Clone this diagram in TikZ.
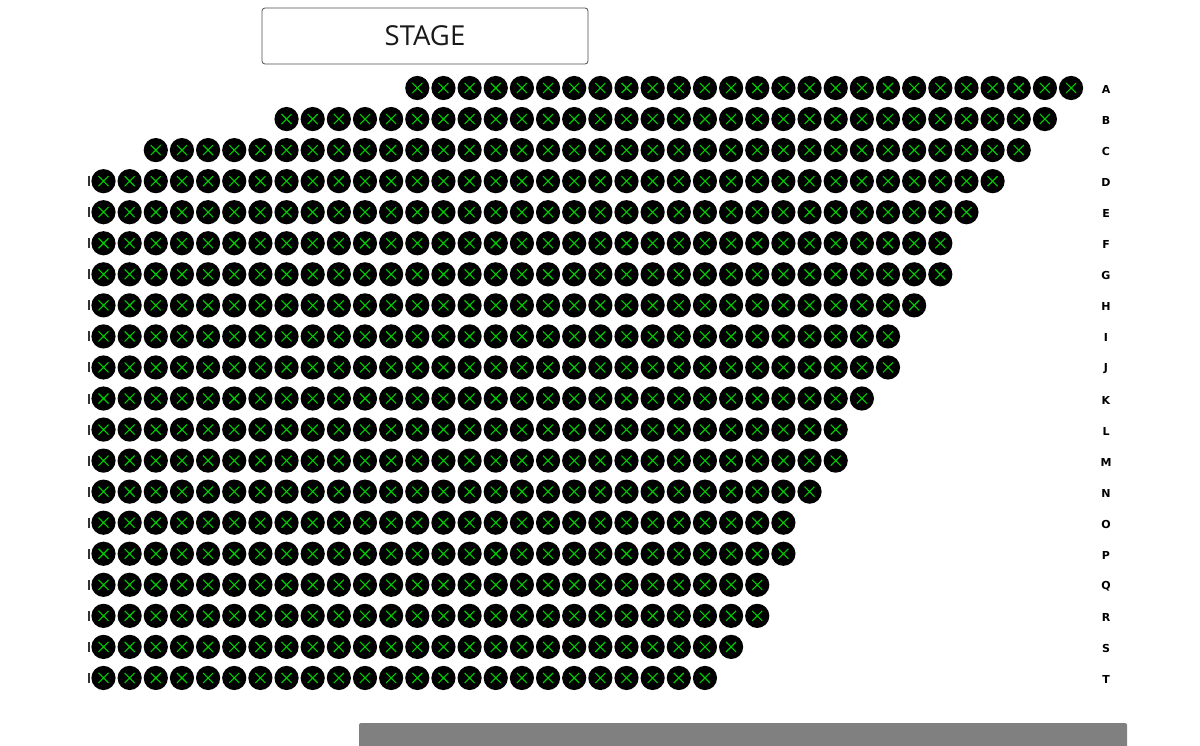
\documentclass[tikz,border=0pt]{standalone}
\usepackage{fontspec}
\setmainfont{Open Sans}
\newfontfamily\labfont{DejaVu Sans Bold}
\definecolor{xgreen}{RGB}{0,205,0}
\definecolor{bargray}{RGB}{128,128,128}
\begin{document}
\begin{tikzpicture}[x=1pt,y=-1pt,
  seat/.style={fill=black},
  xmark/.style={draw=xgreen, line width=1.1pt},
  sliver/.style={fill=black!80},
  rowlabel/.style={font=\labfont\fontsize{11}{11}\selectfont, text=black},
  stagebox/.style={draw=black!70, line width=0.8pt, rounded corners=3pt, minimum width=326pt, minimum height=56pt, inner sep=0pt, font=\fontsize{27.5}{27.5}\selectfont, text=black!90}]
\useasboundingbox (0,0) rectangle (1200,745);
\node[stagebox] (stage) at (425,36) {STAGE};
\foreach \r/\lab/\s/\e in {0/A/12/37,1/B/7/36,2/C/2/35,3/D/0/34,4/E/0/33,5/F/0/32,6/G/0/32,7/H/0/31,8/I/0/30,9/J/0/30,10/K/0/29,11/L/0/28,12/M/0/28,13/N/0/27,14/O/0/26,15/P/0/26,16/Q/0/25,17/R/0/25,18/S/0/24,19/T/0/23}{
  \pgfmathsetmacro\yy{88+31.05*\r}
  \foreach \k in {\s,...,\e}{
    \pgfmathsetmacro\xx{103.5+26.15*\k}
    \fill[seat] (\xx,\yy) circle (12.1);
    \draw[xmark] (\xx-5,\yy-5) -- (\xx+5,\yy+5) (\xx-5,\yy+5) -- (\xx+5,\yy-5);
  }
  \ifnum\s=0 \fill[sliver] (88,\yy-5) rectangle (90.2,\yy+5); \fi
  \node[rowlabel] (row-\lab) at (1106,\yy+1.5) {\lab};
}
\fill[bargray, rounded corners=2pt] (359,723) rectangle (1127,750);
\end{tikzpicture}
\end{document}
